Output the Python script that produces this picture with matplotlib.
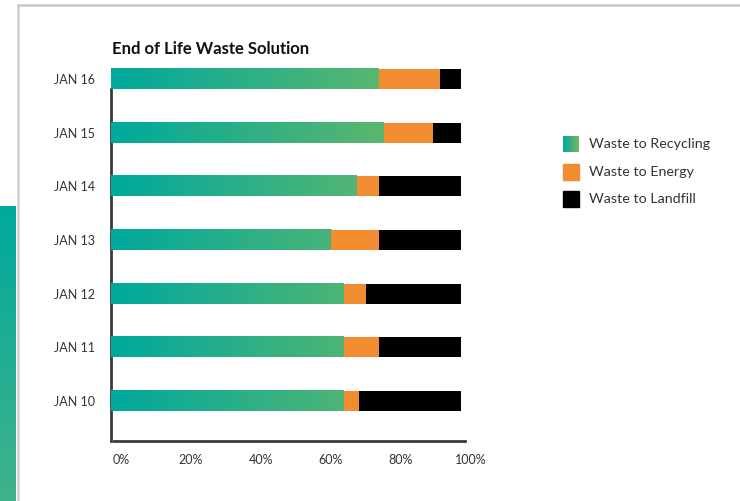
import matplotlib.pyplot as plt
import matplotlib.transforms as mtransforms
import numpy as np
from matplotlib.colors import LinearSegmentedColormap
from matplotlib.patches import Rectangle
from matplotlib.lines import Line2D

# data (percent of waste per year)
years = ['JAN 10', 'JAN 11', 'JAN 12', 'JAN 13', 'JAN 14', 'JAN 15', 'JAN 16']
recycling = [66.6, 66.6, 66.6, 62.9, 70.3, 78.0, 76.6]
energy = [4.3, 10.0, 6.3, 13.7, 6.3, 14.0, 17.4]
landfill = [29.1, 23.4, 27.1, 23.4, 23.4, 8.0, 6.0]
series_names = ['Waste to Recycling', 'Waste to Energy', 'Waste to Landfill']
ticks = [0, 20, 40, 60, 80, 100]
tick_labels = ['0%', '20%', '40%', '60%', '80%', '100%']

teal = '#00A99D'
green = '#74BA62'
orange = '#F28C30'
black = '#000000'
axis_col = '#3A3A3A'
text_col = '#333333'

plt.rcParams['font.family'] = ['Lato', 'DejaVu Sans']

W, H = 740, 501
fig = plt.figure(figsize=(W / 100, H / 100), dpi=100)
grad = LinearSegmentedColormap.from_list('rec', [teal, green])

# page decoration: grey frame + teal side strip
fig.add_artist(Line2D([17.7 / W, 1], [1 - 4.5 / H] * 2, color='#C8C8C8', lw=1.8))
fig.add_artist(Line2D([17.7 / W] * 2, [0, 1 - 4.5 / H], color='#D0D0D0', lw=1.8))
side = fig.add_axes([0, 0, 16 / W, (H - 206) / H])
side.imshow(LinearSegmentedColormap.from_list('side', [teal, '#40B38A'])(np.linspace(0, 1, 128))[:, None, :],
            aspect='auto')
side.axis('off')

# main chart
ax = fig.add_axes([111 / W, 60 / H, 354 / W, 388.8 / H])
y = np.arange(len(years))
h = 0.373
rec = np.array(recycling)
en = np.array(energy)
for i in range(len(years)):
    cols = grad(np.linspace(0, rec[i] / 100, 256))[None, :, :]
    ax.imshow(cols, extent=[0, rec[i], y[i] - h / 2, y[i] + h / 2], aspect='auto', zorder=1)
ax.barh(y, en, left=rec, height=h, color=orange, zorder=1)
ax.barh(y, landfill, left=rec + en, height=h, color=black, zorder=1)

ax.set_xlim(0, 101.2)
ax.set_ylim(-0.745, len(years) - 0.5)
for s in ['top', 'right']:
    ax.spines[s].set_visible(False)
ax.spines['left'].set_bounds(-0.745, len(years) - 1 - h / 2)
ax.spines['bottom'].set_bounds(0.85, 101.2)
for s in ['left', 'bottom']:
    ax.spines[s].set_color(axis_col)
    ax.spines[s].set_linewidth(2)
    ax.spines[s].set_zorder(0.5)

ax.set_yticks(y)
ax.set_yticklabels(years)
ax.set_xticks(ticks)
ax.set_xticklabels(tick_labels)
ax.tick_params(axis='y', length=0, pad=11.5, labelsize=9, labelcolor=text_col)
ax.tick_params(axis='x', length=0, pad=9.5, labelsize=9, labelcolor=text_col)
offset = mtransforms.ScaledTranslation(0.10, 0, fig.dpi_scale_trans)
for lab in ax.get_xticklabels():
    lab.set_transform(lab.get_transform() + offset)

fig.text(112 / W, 1 - 54 / H, 'End of Life Waste Solution', fontsize=12,
         fontweight='bold', color='#111111', va='baseline', ha='left')

# legend
leg_colors = [None, orange, black]
for k, name in enumerate(series_names):
    top = 136 + 27.5 * k
    if leg_colors[k] is None:
        sq = fig.add_axes([563 / W, 1 - (top + 16) / H, 16 / W, 16 / H])
        sq.imshow(grad(np.linspace(0, 1, 64))[None, :, :], aspect='auto')
        sq.axis('off')
    else:
        fig.add_artist(Rectangle((563 / W, 1 - (top + 16) / H), 16 / W, 16 / H,
                                 color=leg_colors[k], transform=fig.transFigure))
    fig.text(589 / W, 1 - (top + 8) / H, name, fontsize=10.3, color=text_col,
             va='center', ha='left')

fig.savefig('out.png', dpi=100)
